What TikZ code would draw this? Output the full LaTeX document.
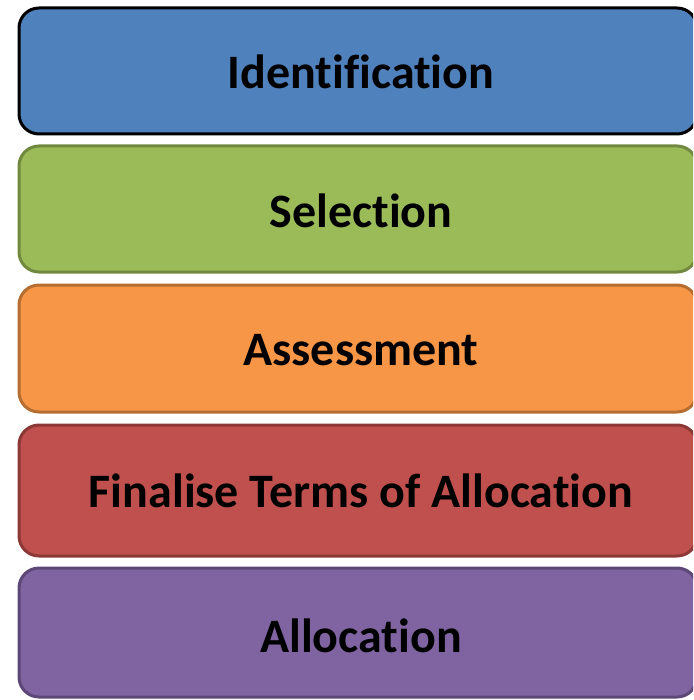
\documentclass[tikz,border=0pt]{standalone}
\usepackage{fontspec}
\setmainfont{Carlito}[Ligatures=NoCommon]
\definecolor{fblue}{HTML}{4F81BD}
\definecolor{fgreen}{HTML}{9BBB59}
\definecolor{dgreen}{HTML}{71893F}
\definecolor{forange}{HTML}{F79646}
\definecolor{dorange}{HTML}{B66D31}
\definecolor{fred}{HTML}{C0504D}
\definecolor{dred}{HTML}{8C3836}
\definecolor{fpurple}{HTML}{8064A2}
\definecolor{dpurple}{HTML}{5C4776}
\begin{document}
\begin{tikzpicture}[x=1pt,y=-1pt,
  stage/.style={rounded corners=20pt,line width=3pt},
  lbl/.style={font=\fontsize{48}{52}\selectfont\bfseries,text=black}]
\useasboundingbox (0,0) rectangle (693,700);
\begin{scope}
\clip (0,0) rectangle (693,700);
\draw[stage,fill=fblue,draw=black] (19,8) rectangle (697,134);
\draw[stage,fill=fgreen,draw=dgreen] (19,146) rectangle (697,272);
\draw[stage,fill=forange,draw=dorange] (19,285) rectangle (697,412);
\draw[stage,fill=fred,draw=dred] (19,425) rectangle (697,556);
\draw[stage,fill=fpurple,draw=dpurple] (19,568) rectangle (697,697);
\end{scope}
\node[lbl] (n1) at (361,72) {Identification};
\node[lbl] (n2) at (361,211) {Selection};
\node[lbl] (n3) at (361,350) {Assessment};
\node[lbl] (n4) at (361,491) {Finalise Terms of Allocation};
\node[lbl] (n5) at (361,636) {Allocation};
\end{tikzpicture}
\end{document}
